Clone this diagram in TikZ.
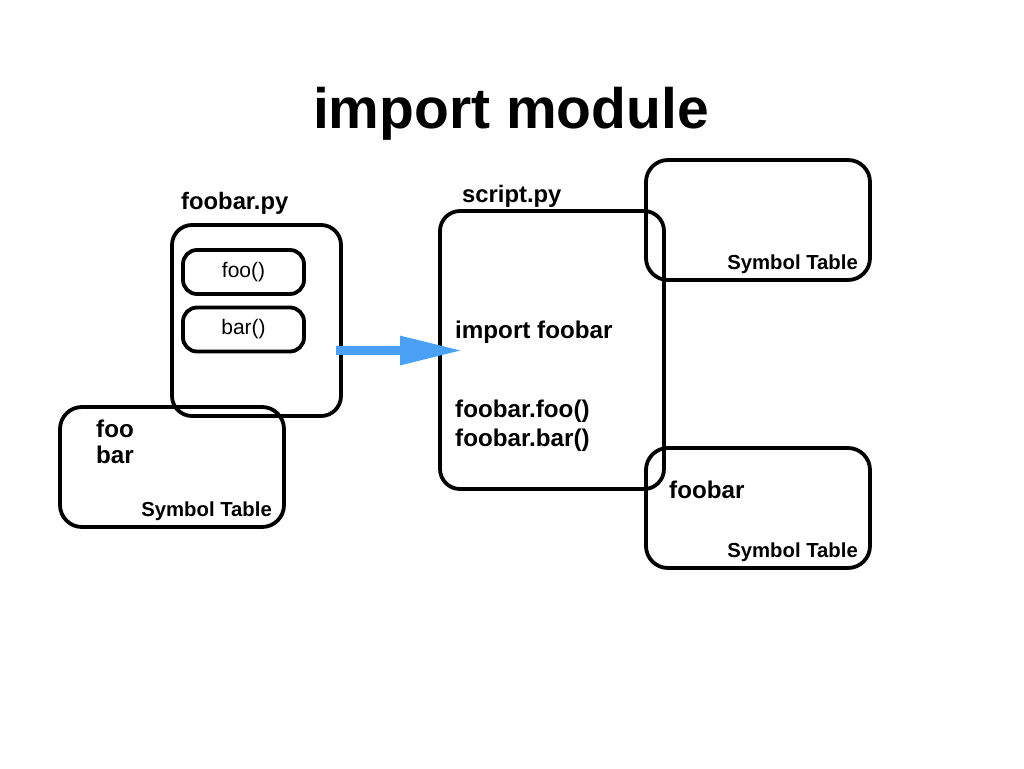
\documentclass[tikz,border=0pt]{standalone}
\usepackage{fontspec}
\setmainfont{Liberation Sans}
\usetikzlibrary{arrows.meta,positioning}
\tikzset{>=latex}
\definecolor{arrowblue}{RGB}{73,160,245}
\tikzset{
  box/.style={draw, line width=3.8pt, inner sep=0pt},
  filebox/.style={box, rounded corners=20pt},
  funcbox/.style={box, rounded corners=14pt, minimum width=121pt, minimum height=44pt,
    font=\fontsize{21}{25}\selectfont},
  symbox/.style={box, rounded corners=22pt, minimum width=\wsym pt, minimum height=\hsym pt},
  filelabel/.style={anchor=base west, inner sep=0pt, font=\fontsize{23.8}{28}\selectfont\bfseries},
  codetext/.style={anchor=base west, inner sep=0pt, font=\fontsize{24.2}{28}\selectfont\bfseries},
  symlabel/.style={anchor=base east, inner sep=0pt, font=\fontsize{20.3}{24}\selectfont\bfseries},
}

\begin{document}
\begin{tikzpicture}[x=1pt,y=-1pt]
      \useasboundingbox (0,0) rectangle (1024,768);
      \def\wsym{224}  % width of a symbol table
      \def\hsym{120}  % height of a symbol table
      \node[anchor=base, font=\fontsize{57}{64}\selectfont\bfseries] (title) at (511,128) {import module};
      %
      % module foobar.py
      \node[filebox, minimum width=169pt, minimum height=191pt] (foobarpy) at (256.5,320.5) {};
      \node[filelabel] (foobarname) at (181,209) {foobar.py};
      \node[funcbox] (foofunc) at (243.5,272) {foo()};
      \node[funcbox] (barfunc) at (243.5,329.5) {bar()};
      \node[symbox] (foobarsym) at (172,467) {};
      \node[codetext] (foosym) at (96,437) {foo};
      \node[codetext] (barsym) at (96,463) {bar};
      \node[symlabel] (foobarsymname) at (272,516) {Symbol Table};
      %
      % script.py
      \node[filebox, minimum width=224pt, minimum height=278pt] (scriptpy) at (552,350) {};
      \node[filelabel] (scriptname) at (462,202) {script.py};
      \node[codetext] (importline) at (455,338) {import foobar};
      \node[codetext] (fooline) at (455,417) {foobar.foo()};
      \node[codetext] (barline) at (455,446) {foobar.bar()};
      \node[symbox] (scriptsym) at (758,220) {};
      \node[symlabel] (scriptsymname) at (858,269) {Symbol Table};
      \node[symbox] (modsym) at (758,508) {};
      \node[codetext] (modname) at (669,498) {foobar};
      \node[symlabel] (modsymname) at (858,557) {Symbol Table};
      %
      \coordinate (arrowtail) at (336,350.5);
      \coordinate (arrowtip) at (463,350.5);
      \draw[arrowblue, line width=9pt, -{Triangle[length=63pt,width=27pt]}] (arrowtail) -- (arrowtip);
    \end{tikzpicture}
\end{document}
